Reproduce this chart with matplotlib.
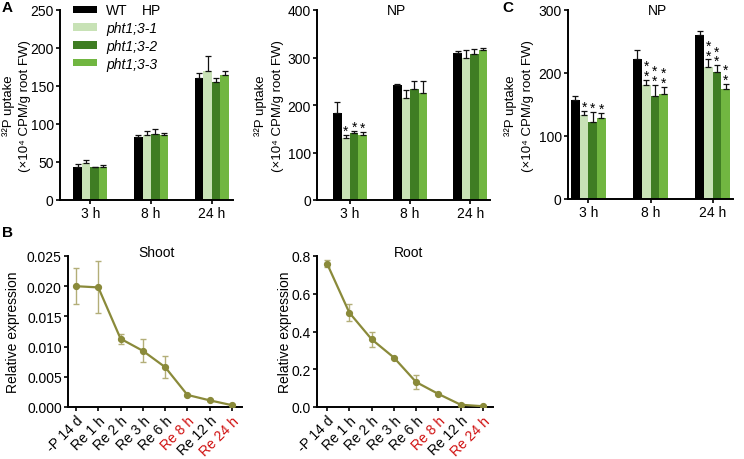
import numpy as np
import matplotlib
matplotlib.use("Agg")
import matplotlib.pyplot as plt

plt.rcParams['font.family'] = ['Liberation Sans', 'DejaVu Sans']
plt.rcParams['axes.linewidth'] = 1.4
plt.rcParams['xtick.major.width'] = 1.2
plt.rcParams['ytick.major.width'] = 1.2
plt.rcParams['xtick.major.size'] = 3
plt.rcParams['ytick.major.size'] = 3

# data
times = ['3 h', '8 h', '24 h']
genotypes = ['WT', 'pht1;3-1', 'pht1;3-2', 'pht1;3-3']
bar_colors = ['#000000', '#c8e2b6', '#3f7d23', '#71b641']

hp_mean = [[44, 83, 160.5], [49, 85, 170], [43, 87, 155.5], [43.5, 85, 164]]
hp_err = [[3, 2, 6.5], [4, 6, 20], [1, 6, 5.5], [3, 3, 6]]

np_mean = [[183, 242, 309], [130, 214, 300], [141, 233, 308], [137, 226, 315]]
np_err = [[23, 3, 5], [7, 18, 15], [5, 17, 9], [7, 24, 6]]
np_stars = [['', '', ''], ['*', '', ''], ['*', '', ''], ['*', '', '']]

c_mean = [[157, 223, 260.5], [133, 180.5, 210], [122, 163, 201], [128, 167, 175]]
c_err = [[6, 13, 6.5], [7, 8.5, 11.5], [16, 18, 11.5], [8, 11, 7.5]]
c_stars = [['', '', ''], ['*', '*\n*', '*\n*'], ['*', '*\n*', '*\n*'], ['*', '*\n*', '*\n*']]

stages = ['-P 14 d', 'Re 1 h', 'Re 2 h', 'Re 3 h', 'Re 6 h', 'Re 8 h', 'Re 12 h', 'Re 24 h']
red_stages = ['Re 8 h', 'Re 24 h']
shoot_mean = [0.0200, 0.0198, 0.0113, 0.0093, 0.0066, 0.0020, 0.0011, 0.0003]
shoot_err = [0.0030, 0.0043, 0.0008, 0.0019, 0.0018, 0.0002, 0.0001, 0.0001]
root_mean = [0.760, 0.500, 0.359, 0.262, 0.132, 0.069, 0.012, 0.004]
root_err = [0.018, 0.045, 0.039, 0.005, 0.036, 0.006, 0.005, 0.002]

W, H = 744, 460
fig = plt.figure(figsize=(7.44, 4.6), dpi=100)


def px_axes(x0, x1, y_top, y_bot):
    return fig.add_axes([x0 / W, 1 - y_bot / H, (x1 - x0) / W, (y_bot - y_top) / H])


def style(ax, fs):
    for s in ['top', 'right']:
        ax.spines[s].set_visible(False)
    ax.tick_params(labelsize=fs, pad=1.5)


ylab_lines = ['³²P uptake', '(×10⁴ CPM/g root FW)']


def bar_panel(ax, means, errs, ymax, title, title_x, xlim, ylab_px, stars=None, legend=False):
    x = np.arange(len(times))
    bw = 0.14
    for i in range(len(genotypes)):
        pos = x + (i - 1.5) * bw
        ax.bar(pos, means[i], bw, color=bar_colors[i], label=genotypes[i], zorder=2)
        ax.errorbar(pos, means[i], yerr=[np.zeros(3), errs[i]], fmt='none',
                    ecolor='#111111', elinewidth=0.9, capsize=2.2, capthick=0.9, zorder=3)
        if stars is not None:
            for j in range(len(times)):
                if stars[i][j]:
                    ax.text(pos[j], means[i][j] + errs[i][j] - ymax * 0.015, stars[i][j],
                            ha='center', va='bottom', fontsize=10, linespacing=0.6)
    ax.set_xticks(x)
    ax.set_xticklabels(times)
    ax.set_xlim(*xlim)
    ax.set_ylim(0, ymax)
    ax.text(title_x, 1.0, title, transform=ax.transAxes, ha='center', va='center', fontsize=10)
    # two-line y label, one text per line
    for line, xp in zip(ylab_lines, ylab_px):
        fig.text(xp / W, 1 - 106 / H, line, rotation=90, ha='center', va='center', fontsize=9.5)
    style(ax, 10)
    if legend:
        leg = ax.legend(loc='upper left', bbox_to_anchor=(0.075, 1.035), frameon=False, fontsize=10,
                        handlelength=1.75, handleheight=0.45, labelspacing=0.27,
                        handletextpad=0.65, borderaxespad=0, borderpad=0)
        for t in leg.get_texts()[1:]:
            t.set_fontstyle('italic')


ax_hp = px_axes(60, 233, 11, 201)
bar_panel(ax_hp, hp_mean, hp_err, 250, 'HP', 0.53, (-0.5, 2.35), (9, 25), legend=True)
ax_hp.set_yticks([0, 50, 100, 150, 200, 250])

ax_np = px_axes(317, 490, 11, 201)
bar_panel(ax_np, np_mean, np_err, 400, 'NP', 0.46, (-0.55, 2.33), (261, 278), stars=np_stars)
ax_np.set_yticks([0, 100, 200, 300, 400])

ax_c = px_axes(568, 733, 11, 200)
bar_panel(ax_c, c_mean, c_err, 300, 'NP', 0.54, (-0.33, 2.33), (511, 528), stars=c_stars)
ax_c.set_yticks([0, 100, 200, 300])


def line_panel(ax, means, errs, ymax, yticks, fmt, title, title_x, xlim, ylab_x):
    x = np.arange(len(stages))
    ax.errorbar(x, means, yerr=errs, fmt='none', ecolor='#b3ae78', elinewidth=1.0,
                capsize=2.5, capthick=1.0, zorder=2)
    ax.plot(x, means, '-o', color='#8a8a3a', lw=1.6, ms=4.2, zorder=3)
    ax.set_xlim(*xlim)
    ax.set_ylim(0, ymax)
    ax.set_yticks(yticks)
    ax.set_yticklabels([fmt.format(v) for v in yticks])
    ax.set_xticks(x)
    ax.set_xticklabels(stages, rotation=45, ha='right', rotation_mode='anchor')
    for lab in ax.get_xticklabels():
        if lab.get_text() in red_stages:
            lab.set_color('#d01010')
    ax.text(title_x, 1.026, title, transform=ax.transAxes, ha='center', va='center', fontsize=10)
    ax.set_ylabel('Relative expression', fontsize=10, va='center')
    ax.yaxis.set_label_coords(ylab_x, 0.5)
    style(ax, 10)


ax_sh = px_axes(68, 242, 257, 408)
line_panel(ax_sh, shoot_mean, shoot_err, 0.025, [0, 0.005, 0.010, 0.015, 0.020, 0.025],
           '{:.3f}', 'Shoot', 0.51, (-0.36, 7.45), -0.316)

ax_rt = px_axes(317, 493, 257, 408)
line_panel(ax_rt, root_mean, root_err, 0.8, [0, 0.2, 0.4, 0.6, 0.8],
           '{:.1f}', 'Root', 0.52, (-0.45, 7.45), -0.18)

fig.text(2 / W, 1 - 8 / H, 'A', fontsize=11, fontweight='bold', va='center')
fig.text(2 / W, 1 - 233 / H, 'B', fontsize=11, fontweight='bold', va='center')
fig.text(502 / W, 1 - 8 / H, 'C', fontsize=11, fontweight='bold', va='center')

fig.savefig('out.png', dpi=100)
